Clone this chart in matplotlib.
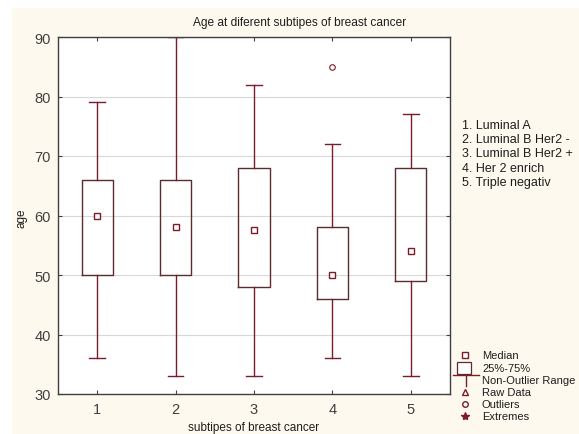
import matplotlib
matplotlib.use("Agg")
import matplotlib.pyplot as plt
from matplotlib.patches import Rectangle
from matplotlib.lines import Line2D

# ── data ────────────────────────────────────────────────
subtypes = [1, 2, 3, 4, 5]
subtype_names = ["1. Luminal A", "2. Luminal B Her2 -", "3. Luminal B Her2 +",
                 "4. Her 2 enrich", "5. Triple negativ"]
medians = [60, 58, 57.5, 50, 54]
q1 = [50, 50, 48, 46, 49]
q3 = [66, 66, 68, 58, 68]
whisk_lo = [36, 33, 33, 36, 33]
whisk_hi = [79, 90, 82, 72, 77]
outliers = [[], [], [], [85], []]

BG = "#fdf9ee"
WHISK = "#7a1c2c"
BOXC = "#5c2b2e"
TXT = "#404040"
DARK = "#1e1e1e"

plt.rcParams["font.family"] = ["Liberation Sans", "DejaVu Sans"]

W, H = 579, 435
fig = plt.figure(figsize=(W / 100, H / 100), dpi=100)
fig.patch.set_facecolor(BG)
# white strips at left and top like the original export
fig.add_artist(Rectangle((0, 0), 12 / W, 1, transform=fig.transFigure,
                         facecolor="white", edgecolor="none", zorder=0))
fig.add_artist(Rectangle((0, 1 - 9 / H), 1, 9 / H, transform=fig.transFigure,
                         facecolor="white", edgecolor="none", zorder=0))

ax = fig.add_axes([58 / W, 1 - 395 / H, (450 - 58) / W, (395 - 38) / H])
ax.set_facecolor("white")

stats = []
for i in range(len(subtypes)):
    stats.append(dict(med=medians[i], q1=q1[i], q3=q3[i],
                      whislo=whisk_lo[i], whishi=whisk_hi[i], fliers=outliers[i]))

ax.bxp(stats, positions=subtypes, widths=0.4, showfliers=True,
       boxprops=dict(color=BOXC, linewidth=1.0),
       whiskerprops=dict(color=WHISK, linewidth=1.0),
       capprops=dict(color=WHISK, linewidth=1.0),
       capwidths=0.2,
       medianprops=dict(linestyle="none"),
       flierprops=dict(marker="o", markersize=4, markerfacecolor="none",
                       markeredgecolor=WHISK, markeredgewidth=0.8))
ax.plot(subtypes, medians, linestyle="none", marker="s", markersize=4.5,
        markerfacecolor="white", markeredgecolor=WHISK, markeredgewidth=1.0, zorder=5)

ax.set_xlim(0.5, 5.5)
ax.set_ylim(30, 90)
ax.set_xticks(subtypes)
ax.set_xticklabels([str(s) for s in subtypes])
ax.set_yticks(range(30, 91, 10))
ax.grid(axis="y", color="#d8d8d8", linewidth=0.8)
ax.set_axisbelow(True)
ax.tick_params(direction="in", length=3, top=True, right=True,
               color=TXT, labelcolor=TXT, labelsize=10.5)
ax.tick_params(axis="x", pad=6)
ax.tick_params(axis="y", pad=5)
for s in ax.spines.values():
    s.set_color(TXT)
    s.set_linewidth(1.0)

fig.text(300 / W, 1 - 23 / H, "Age at diferent subtipes of breast cancer",
         fontsize=8.6, color=DARK, ha="center", va="center")
fig.text(254 / W, 1 - 428 / H, "subtipes of breast cancer",
         fontsize=8.5, color=DARK, ha="center", va="center")
fig.text(22 / W, 1 - 218 / H, "age", fontsize=8.5, color=DARK,
         rotation=90, ha="center", va="center")

# subtype key on the right
for i, name in enumerate(subtype_names):
    fig.text(462 / W, 1 - (126 + i * 14.2) / H, name, fontsize=9, color=DARK,
             va="center", ha="left")

# symbol key at bottom right
ky = [356, 369, 381, 393, 405, 417]
kx = 465
fig.add_artist(Line2D([kx / W], [1 - ky[0] / H], transform=fig.transFigure,
                      marker="s", markersize=4.5, markerfacecolor="white",
                      markeredgecolor=WHISK, linestyle="none"))
fig.add_artist(Rectangle((457 / W, 1 - 375 / H), 14 / W, 12 / H, transform=fig.transFigure,
                         facecolor="white", edgecolor=BOXC, linewidth=0.9))
fig.add_artist(Line2D([453 / W, 479 / W], [1 - 376 / H] * 2, transform=fig.transFigure,
                      color=WHISK, linewidth=1.0))
fig.add_artist(Line2D([466 / W, 466 / W], [1 - 376 / H, 1 - 387 / H], transform=fig.transFigure,
                      color=WHISK, linewidth=1.0))
fig.add_artist(Line2D([kx / W], [1 - ky[3] / H], transform=fig.transFigure,
                      marker="^", markersize=4, markerfacecolor="white",
                      markeredgecolor=WHISK, linestyle="none"))
fig.add_artist(Line2D([kx / W], [1 - ky[4] / H], transform=fig.transFigure,
                      marker="o", markersize=4, markerfacecolor="white",
                      markeredgecolor=WHISK, linestyle="none"))
fig.add_artist(Line2D([kx / W], [1 - ky[5] / H], transform=fig.transFigure,
                      marker="*", markersize=6, color=WHISK, linestyle="none"))
labels = ["Median", "25%-75%", "Non-Outlier Range", "Raw Data", "Outliers", "Extremes"]
for y, lab in zip(ky, labels):
    fig.text(482 / W, 1 - y / H, lab, fontsize=8, color=DARK, va="center", ha="left")

fig.savefig("out.png", dpi=100, facecolor=fig.get_facecolor())
